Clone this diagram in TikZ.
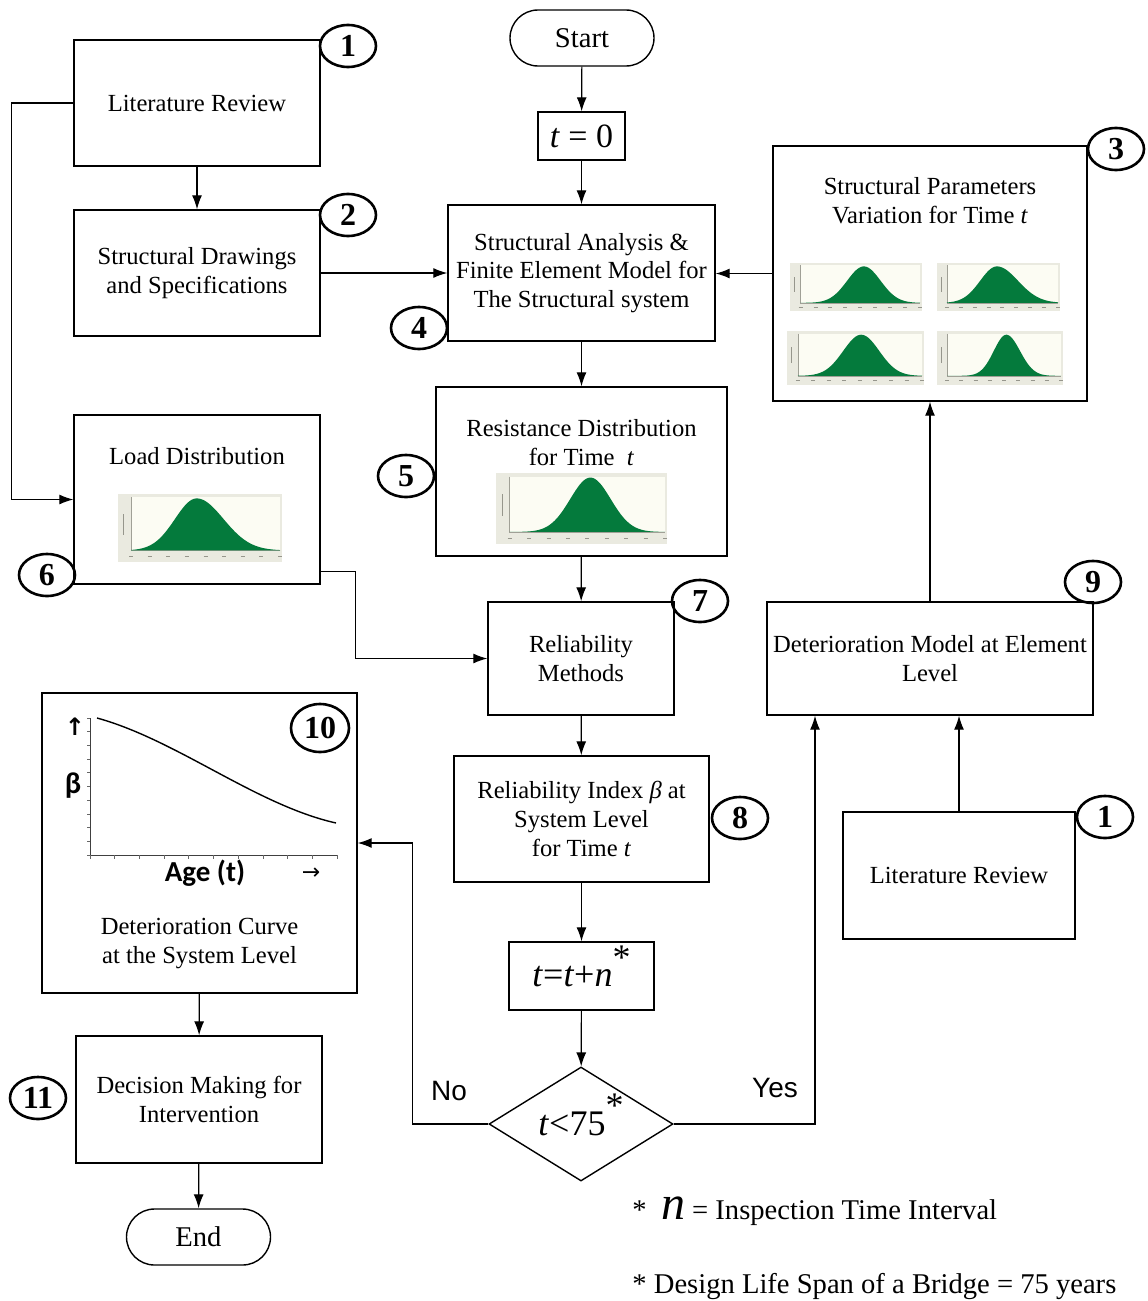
\documentclass[tikz,border=0pt]{standalone}
\usepackage{fontspec}
\setmainfont{Liberation Serif}
\newfontfamily\labelsans{Liberation Sans}
\newfontfamily\chartsans{Carlito}
\newfontfamily\symsans{DejaVu Sans}
\usetikzlibrary{shapes.geometric,arrows.meta,calc}

\definecolor{bellgreen}{RGB}{4,122,60}
\definecolor{chartbg}{RGB}{234,234,224}
\definecolor{chartin}{RGB}{252,252,243}
\definecolor{chartaxis}{RGB}{160,160,150}
\definecolor{chartlbl}{RGB}{150,150,140}

% Small probability-density chart: #1,#2 top-left, #3 width, #4 height,
% #5 mean (fraction of plot width), #6/#7 left/right spread (fractions)
\newcommand{\bellchart}[7]{%
  \begin{scope}[shift={(#1,#2)}]
    \fill[chartbg] (0,0) rectangle (#3,#4);
    \pgfmathsetmacro{\bcL}{0.08*#3}
    \pgfmathsetmacro{\bcR}{#3-2}
    \pgfmathsetmacro{\bcB}{#4-0.17*#4}
    \pgfmathsetmacro{\bcT}{0.05*#4}
    \pgfmathsetmacro{\bcM}{\bcL+#5*(\bcR-\bcL)}
    \pgfmathsetmacro{\bcSL}{#6*(\bcR-\bcL)}
    \pgfmathsetmacro{\bcSR}{#7*(\bcR-\bcL)}
    \pgfmathsetmacro{\bcP}{\bcB-\bcT-1}
    \fill[chartin] (\bcL,\bcT) rectangle (\bcR,\bcB);
    \draw[chartaxis,line width=0.3pt] (\bcL,\bcT) -- (\bcL,\bcB) -- (\bcR,\bcB);
    \fill[bellgreen] (\bcL,\bcB) -- plot[domain=\bcL:\bcR,samples=70,smooth]
      (\x,{\bcB-\bcP*exp(0-((\x-\bcM)^2)/(2*((\x<\bcM)?\bcSL:\bcSR)^2))})
      -- (\bcR,\bcB) -- cycle;
    \foreach \i in {0,...,8}
      \draw[chartlbl,line width=0.5pt] ({\bcL+\i*(\bcR-\bcL)/8-2},{\bcB+0.09*#4}) -- ++(4,0);
    \draw[chartlbl,line width=0.4pt] ({0.035*#3},{0.3*#4}) -- ++(0,{0.3*#4});
  \end{scope}}

\begin{document}
\begin{tikzpicture}[x=0.5pt,y=-0.5pt,
  font=\fontsize{12.3}{14.3}\selectfont,
  box/.style={draw,line width=0.7pt,inner sep=0pt,align=center},
  term/.style={draw,line width=0.7pt,inner sep=0pt,rounded corners=14pt,
    minimum width=72pt,minimum height=28pt,font=\fontsize{14.3}{14.3}\selectfont},
  numc/.style={draw,ellipse,line width=1.3pt,inner sep=0pt,minimum width=28pt,
    minimum height=21pt,font=\fontsize{16}{16}\selectfont\bfseries},
  arr/.style={-{Latex[length=7pt,width=5pt]},line width=0.6pt},
  bigmath/.style={font=\fontsize{18}{18}\selectfont}]

\useasboundingbox (0,0) rectangle (1147,1301);

% ---- process boxes ----
\node[term] (start) at (582,38) {Start};
\node[box,minimum width=43.5pt,minimum height=24pt,font=\fontsize{17}{17}\selectfont]
  (t0) at (581.5,136) {\textit{t} = 0};
\node[box,minimum width=133.5pt,minimum height=68pt] (sa) at (581.5,273)
  {Structural Analysis \&\\Finite Element Model for\\The Structural system};
\node[box,minimum width=123pt,minimum height=63pt] (lit1) at (197,103) {Literature Review};
\node[box,minimum width=123pt,minimum height=63pt] (draw2) at (197,273)
  {Structural Drawings\\and Specifications};
\node[box,minimum width=157pt,minimum height=127.5pt] (params) at (930,273.5) {};
\node[align=center] (paramtxt) at (930,200.5)
  {Structural Parameters\\Variation for Time \textit{t}};
\node[box,minimum width=145.5pt,minimum height=84.5pt] (res) at (581.5,471.5) {};
\node[align=center] (restxt) at (581.5,442.5) {Resistance Distribution\\for Time\ \ \textit{t}};
\node[box,minimum width=123pt,minimum height=84.5pt] (load6) at (197,499.5) {};
\node (loadtxt) at (197,456) {Load Distribution};
\node[box,minimum width=93pt,minimum height=56.5pt] (rel) at (581,658.5)
  {Reliability\\Methods};
\node[box,minimum width=163pt,minimum height=56.5pt] (det9) at (930,658.5)
  {Deterioration Model at Element\\Level};
\node[box,minimum width=157.5pt,minimum height=150pt] (curve10) at (199.5,843) {};
\node[align=center] (curvetxt) at (199.5,943.5) {Deterioration Curve\\at the System Level};
\node[box,minimum width=127.5pt,minimum height=63pt] (ri) at (581.5,819)
  {Reliability Index \textit{β} at\\System Level\\for Time \textit{t}};
\node[box,minimum width=116pt,minimum height=63.5pt] (lit1b) at (959,875.5) {Literature Review};
\node[box,minimum width=72.5pt,minimum height=34pt,bigmath] (tn) at (581.5,976)
  {\textit{t}=\textit{t}+\textit{n}\smash{\raisebox{0.45em}{*}}};
\node[draw,diamond,line width=0.7pt,inner sep=0pt,aspect=1.6,minimum width=92pt,
  minimum height=57pt,bigmath] (dia) at (581,1124)
  {\textit{t}<75\smash{\raisebox{0.5em}{*}}};
\node[box,minimum width=123pt,minimum height=63.5pt] (dec11) at (199,1099.5)
  {Decision Making for\\Intervention};
\node[term] (endnode) at (198.5,1237) {End};

% ---- density charts ----
\bellchart{790}{263}{132}{48}{0.53}{0.14}{0.14}
\bellchart{937}{263}{123}{48}{0.45}{0.15}{0.19}
\bellchart{787}{331}{137}{54}{0.51}{0.145}{0.145}
\bellchart{937}{331}{126}{54}{0.52}{0.11}{0.12}
\bellchart{496}{473}{171}{71}{0.52}{0.13}{0.13}
\bellchart{118}{494}{164}{68}{0.44}{0.145}{0.18}

% ---- reliability index vs. age chart ----
\draw[line width=0.5pt,black!75] (90,718) -- (90,855) -- (337,855);
\foreach \k in {0,...,10} \draw[line width=0.4pt,black!60] (90,{718+\k*13.7}) -- ++(-3.5,0);
\foreach \k in {0,...,10} \draw[line width=0.4pt,black!60] ({90+\k*24.7},855) -- ++(0,3.5);
\draw[line width=0.7pt] (97,718) .. controls (177,740) and (256,805) .. (336,823);
\node[font=\symsans\bfseries\fontsize{12}{12}\selectfont] (uparr) at (75,727) {↑};
\node[font=\chartsans\bfseries\fontsize{15}{15}\selectfont] (betalbl) at (73,786) {β};
\node[font=\chartsans\bfseries\fontsize{14.5}{14.5}\selectfont] (agelbl) at (205,873) {Age (t)};
\node[font=\symsans\fontsize{11}{11}\selectfont] (rarr) at (311,874) {→};

% ---- step numbers ----
\node[numc] (c1) at (348,46) {1};
\node[numc] (c2) at (348,215) {2};
\node[numc] (c3) at (1116,149) {3};
\node[numc] (c4) at (419,328) {4};
\node[numc] (c5) at (406,476) {5};
\node[numc] (c6) at (47,575) {6};
\node[numc] (c7) at (700,601) {7};
\node[numc] (c8) at (740,818) {8};
\node[numc] (c9) at (1093,582) {9};
\node[numc,minimum width=29pt,minimum height=24pt] (c10) at (320,728) {10};
\node[numc] (c1b) at (1105,817) {1};
\node[numc] (c11) at (38,1098) {11};

% ---- connectors ----
\draw[arr] (start) -- (t0);
\draw[arr] (t0) -- (sa);
\draw[arr] (lit1) -- (draw2);
\draw[arr] (lit1.west) -- ++(-62,0) |- (load6.west);
\draw[arr] (draw2.east) -- (sa.west);
\draw[arr] (params.west) -- (params.west -| sa.east);
\draw[arr] (sa) -- (res);
\draw[arr] (res) -- (rel);
\draw[arr] ([yshift=6.5pt]load6.south east) -- ++(35,0) |- (rel.west);
\draw[arr] (rel) -- (ri);
\draw[arr] (ri) -- (tn);
\draw[arr] (tn) -- (dia);
\draw[arr] (dia.west) -- ++(-76,0) |- (curve10.east);
\draw[arr] (dia.east) -| ([xshift=-57.5pt]det9.south);
\draw[arr] (lit1b.north) -- (lit1b.north |- det9.south);
\draw[arr] (det9) -- (params);
\draw[arr] (curve10) -- (dec11);
\draw[arr] (dec11) -- (endnode);

\node[font=\labelsans\fontsize{14}{14}\selectfont] (nolbl) at (449,1091) {No};
\node[font=\labelsans\fontsize{14}{14}\selectfont] (yeslbl) at (775,1088) {Yes};

% ---- footnotes ----
\node[anchor=base west,inner sep=0pt,font=\fontsize{14.3}{16}\selectfont] (note1) at (632,1219)
  {*\hspace{0.5em}{\fontsize{24}{24}\selectfont\textit{n}} = Inspection Time Interval};
\node[anchor=base west,inner sep=0pt,font=\fontsize{14.3}{16}\selectfont] (note2) at (632,1293)
  {* Design Life Span of a Bridge = 75 years};
\end{tikzpicture}
\end{document}
